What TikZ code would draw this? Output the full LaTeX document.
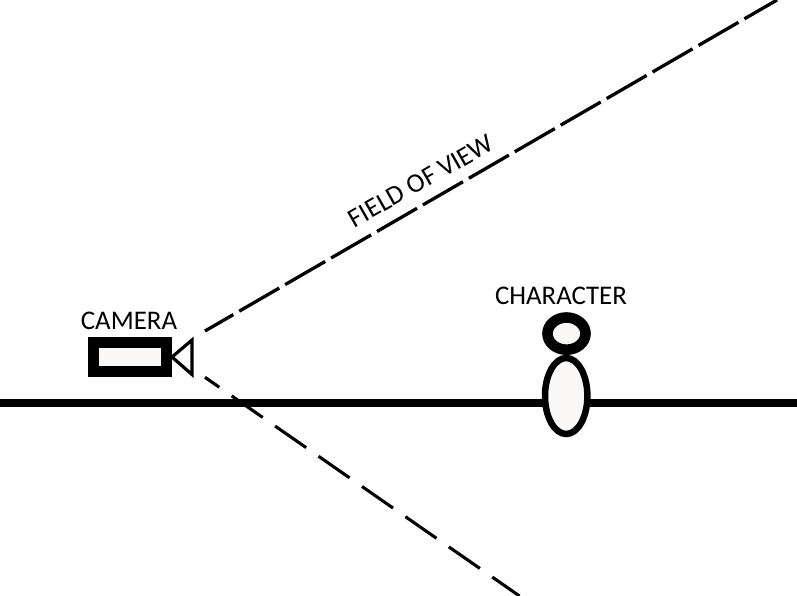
\documentclass[tikz,border=0pt]{standalone}
\usepackage{fontspec}
\setmainfont{Carlito}
\definecolor{fillw}{RGB}{250,249,248}
\tikzset{
  lbl/.style={font=\fontsize{26.9}{30}\selectfont,text=black,inner sep=0pt},
  fovup/.style={line width=3.3pt,draw=black,dash pattern=on 46.2pt off 6.86pt,dash phase=13.5pt},
  fovlow/.style={line width=3.1pt,draw=black,dash pattern=on 37.8pt off 15.1pt,dash phase=20.4pt},
  ground/.style={line width=8pt,draw=black},
  thick body/.style={draw=black,fill=fillw}
}
\begin{document}
\begin{tikzpicture}[x=1pt,y=-1pt]
\useasboundingbox (0,0) rectangle (797,596);
\coordinate (gl) at (0,402.7);
\coordinate (gr) at (797,402.7);
\coordinate (u0) at (205,331);
\coordinate (u1) at (777,0);
\coordinate (l0) at (205,377.3);
\coordinate (l1) at (519.5,596);
\draw[ground] (gl) -- (gr);
\draw[fovup] (u0) -- (u1);
\draw[fovlow] (l0) -- (l1);
\filldraw[draw=black,fill=fillw,line width=11pt,line join=miter] (93.5,342.8) rectangle (166.2,371.2);
\draw[line width=3.2pt,fill=white,line join=miter] (172,357) -- (192,340) -- (192,374.5) -- cycle;
\draw[thick body,line width=6.5pt] (566.2,396) ellipse (21.2 and 38);
\draw[thick body,line width=10.6pt] (566.5,333.6) ellipse (19 and 16.1);
\node[lbl] (cam) at (129,321) {CAMERA};
\node[lbl] (char) at (561,296) {CHARACTER};
\node[lbl,rotate=29.5] (fv) at (421,181) {FIELD OF VIEW};
\end{tikzpicture}
\end{document}
